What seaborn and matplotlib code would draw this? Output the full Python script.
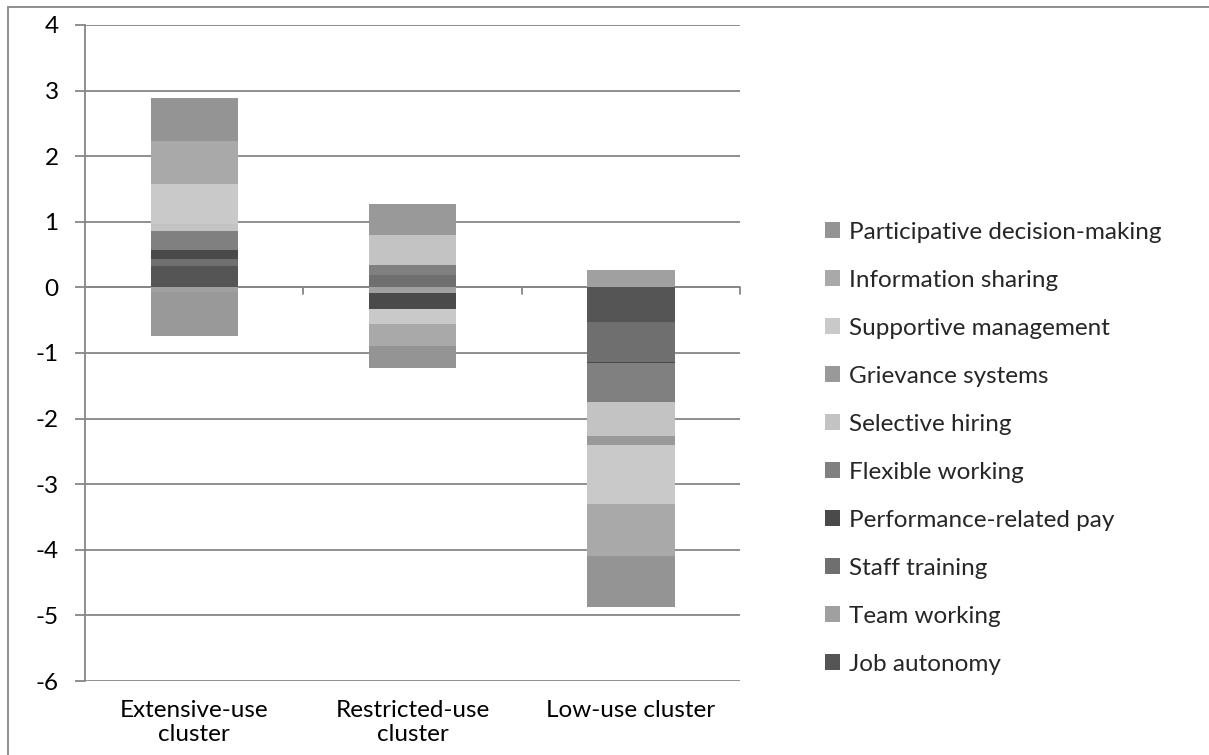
import matplotlib
matplotlib.use("Agg")
import matplotlib.pyplot as plt
from matplotlib.patches import Patch, Rectangle
import numpy as np
import pandas as pd
import seaborn as sns

# Clusters on the category axis
categories = ["Extensive-use\ncluster", "Restricted-use\ncluster", "Low-use cluster"]

# HR practice scores per cluster (stacking order: first series sits next to zero)
job_autonomy = [0.33, 0.00, -0.53]
team_working = [-0.07, -0.08, 0.26]
staff_training = [0.10, 0.19, -0.60]
performance_pay = [0.14, -0.25, -0.02]
flexible_working = [0.29, 0.15, -0.59]
selective_hiring = [0.10, 0.46, -0.53]
grievance_systems = [-0.67, 0.47, -0.13]
supportive_management = [0.62, -0.23, -0.90]
information_sharing = [0.65, -0.33, -0.79]
participative_decision = [0.65, -0.34, -0.78]

series_names = [
    "Job autonomy", "Team working", "Staff training", "Performance-related pay",
    "Flexible working", "Selective hiring", "Grievance systems",
    "Supportive management", "Information sharing", "Participative decision-making",
]
series_values = [
    job_autonomy, team_working, staff_training, performance_pay, flexible_working,
    selective_hiring, grievance_systems, supportive_management, information_sharing,
    participative_decision,
]
series_colors = [
    "#555555", "#a0a0a0", "#6f6f6f", "#4a4a4a", "#808080",
    "#c3c3c3", "#999999", "#c9c9c9", "#a9a9a9", "#949494",
]

sns.set_theme(style="white")
font = ["Lato", "DejaVu Sans"]
plt.rcParams["font.family"] = font
fs = 17.5

fig = plt.figure(figsize=(12.09, 7.55), dpi=100)
ax = fig.add_axes([85 / 1209, 1 - 681 / 755, 655 / 1209, 656 / 755])

grid_color = "#868686"

# Stack positives upward and negatives downward, like a spreadsheet stacked column
pos_base = np.zeros(len(categories))
neg_base = np.zeros(len(categories))
for name, vals, col in zip(series_names, series_values, series_colors):
    vals = np.asarray(vals, dtype=float)
    bottoms = np.where(vals >= 0, pos_base, neg_base)
    df = pd.DataFrame({"cluster": categories, "score": vals})
    sns.barplot(data=df, x="cluster", y="score", order=categories, color=col,
                bottom=bottoms, width=0.4, linewidth=0, saturation=1, ax=ax,
                errorbar=None)
    pos_base = pos_base + np.clip(vals, 0, None)
    neg_base = neg_base + np.clip(vals, None, 0)

ax.set_xlim(-0.5, len(categories) - 0.5)
ax.set_ylim(-6, 4)
ax.set_yticks(np.arange(-6, 5, 1))
ax.set_yticklabels([str(v) for v in range(-6, 5)], fontsize=fs, color="black")
ax.yaxis.grid(True, color=grid_color, linewidth=1.3)
ax.set_axisbelow(True)

for side in ["top", "right", "bottom"]:
    ax.spines[side].set_visible(False)
ax.spines["left"].set_color(grid_color)
ax.spines["left"].set_linewidth(1.3)
ax.tick_params(axis="y", left=True, length=7, width=1.3, color=grid_color, pad=12)

# Category axis crossing at zero, with tick marks between clusters
ax.axhline(0, color=grid_color, linewidth=1.3, zorder=0.5)
for b in np.arange(0.5, len(categories), 1.0):
    ax.plot([b, b], [0, -0.1], color=grid_color, linewidth=1.3, clip_on=False, zorder=0.5)

ax.set_xticks(range(len(categories)))
ax.set_xticklabels(categories, fontsize=fs, color="black", linespacing=1.15)
ax.tick_params(axis="x", bottom=False, length=0, pad=14)
ax.set_xlabel("")
ax.set_ylabel("")

# Legend, last series on top
handles = [Patch(facecolor=c, edgecolor="none") for c in series_colors[::-1]]
fig.legend(handles, series_names[::-1], loc="upper left",
           bbox_to_anchor=(815 / 1209, 1 - 212 / 755), frameon=False,
           fontsize=fs, handlelength=0.62, handleheight=0.62, handletextpad=0.38,
           labelspacing=1.11, borderaxespad=0)

# Chart area border
fig.patches.append(Rectangle((8 / 1209, -0.05), 1.1, 1.05 - 7 / 755,
                             transform=fig.transFigure, fill=False,
                             edgecolor=grid_color, linewidth=1.3))

fig.savefig("out.png", dpi=100)
